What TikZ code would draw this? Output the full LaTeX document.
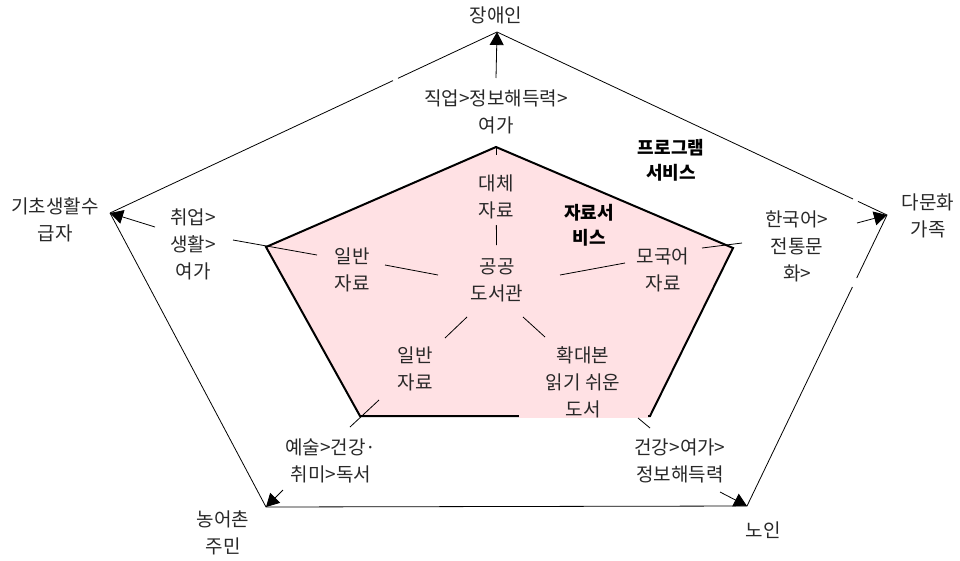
\documentclass[tikz,border=0pt]{standalone}
\usepackage{fontspec}
\newfontfamily\kr{Noto Sans CJK KR}
\usetikzlibrary{arrows.meta,calc}
\definecolor{pinkfill}{RGB}{255,225,228}
\definecolor{txt}{RGB}{40,40,40}
\begin{document}
\begin{tikzpicture}[x=1pt,y=-1pt,
  lbl/.style={font=\kr\fontsize{19}{27}\selectfont, align=center, text=txt, inner sep=0pt},
  bld/.style={font=\kr\bfseries\fontsize{18}{25}\selectfont, align=center, text=black, inner sep=0pt},
  thinline/.style={line width=0.8pt},
  arr/.style={line width=0.8pt, -{Triangle[length=13pt,width=14pt]}},
]
\useasboundingbox (0,0) rectangle (960,560);

% outer pentagon
\coordinate (A) at (497,32);
\coordinate (B) at (887,215);
\coordinate (C) at (747,506);
\coordinate (D) at (266,507);
\coordinate (E) at (110,213);
\draw[thinline] (E) -- (393,80.6);
\draw[thinline] (398,78.3) -- (A) -- (853,199.0);
\draw[thinline] (858,201.4) -- (B) -- (856.7,278);
\draw[thinline] (852.4,287) -- (C) -- (D) -- (E);

% inner pentagon
\coordinate (ia) at (496,147);
\coordinate (ib) at (733,248);
\coordinate (ic) at (650,416);
\coordinate (id) at (360,416);
\coordinate (ie) at (266,247);
\draw[line width=2pt, fill=pinkfill, line join=miter] (ia) -- (ib) -- (ic) -- (id) -- (ie) -- cycle;
\fill[pinkfill] (519,398) rectangle (648,418);

% vertex labels
\node[lbl] (v1) at (496,15) {장애인};
\node[lbl] (v2) at (55,220) {기초생활수\\급자};
\node[lbl] (v3) at (928,216) {다문화\\가족};
\node[lbl] (v4) at (223,533) {농어촌\\주민};
\node[lbl] (v5) at (763,530) {노인};

% outer labels
\node[lbl] (o1) at (496,112) {직업>정보해득력>\\여가};
\node[lbl] (o2) at (193,244) {취업>\\생활>\\여가};
\node[lbl] (o3) at (797,246) {한국어>\\전통문\\화>};
\node[lbl] (o4) at (331,461) {예술>건강·\\취미>독서};
\node[lbl] (o5) at (680,461) {건강>여가>\\정보해득력};

% inner labels
\node[lbl] (c) at (497,280) {공공\\도서관};
\node[lbl] (n1) at (496,197) {대체\\자료};
\node[lbl] (n2) at (352,270) {일반\\자료};
\node[lbl] (n3) at (663,270) {모국어\\자료};
\node[lbl] (n4) at (415,369) {일반\\자료};
\begin{scope}
\clip (500,330) rectangle (660,418);
\node[lbl] (n5) at (583,382) {확대본\\읽기 쉬운\\도서};
\end{scope}

\node[bld] (p1) at (671,160) {프로그램\\서비스};
\node[bld] (p2) at (589,225) {자료서\\비스};

% spokes
\draw[thinline] (ia) -- ($(ia)!8pt!(n1)$);
\draw[thinline] ($(n1)!28pt!(c)$) -- ($(c)!35pt!(n1)$);
\coordinate (s2a) at (233,240);
\coordinate (s2b) at (317,255);
\coordinate (s2c) at (385,265);
\coordinate (s2d) at (438,275);
\draw[thinline] (s2a) -- (s2b);
\draw[thinline] (s2c) -- (s2d);
\coordinate (s3a) at (742,243);
\coordinate (s3b) at (702,248);
\coordinate (s3c) at (625,263);
\coordinate (s3d) at (560,275);
\draw[thinline] (s3a) -- (s3b);
\draw[thinline] (s3c) -- (s3d);
\coordinate (s4a) at (350,427);
\coordinate (s4b) at (379,400);
\coordinate (s4c) at (445,338);
\coordinate (s4d) at (467,317);
\draw[thinline] (s4a) -- (s4b);
\draw[thinline] (s4c) -- (s4d);
\coordinate (s5a) at (523,317);
\coordinate (s5b) at (545,337);
\coordinate (s5c) at (638,418);
\coordinate (s5d) at (650,428);
\draw[thinline] (s5a) -- (s5b);
\draw[thinline] (s5c) -- (s5d);

% arrows
\coordinate (a1) at (496,78);
\draw[arr] (a1) -- (A);
\coordinate (a2) at (155,227);
\draw[arr] (a2) -- (E);
\coordinate (a3) at (857,223);
\draw[arr] (a3) -- (B);
\coordinate (a4) at (283,490);
\draw[arr] (a4) -- (D);
\coordinate (a5) at (720,492);
\draw[arr] (a5) -- (C);
\end{tikzpicture}
\end{document}
